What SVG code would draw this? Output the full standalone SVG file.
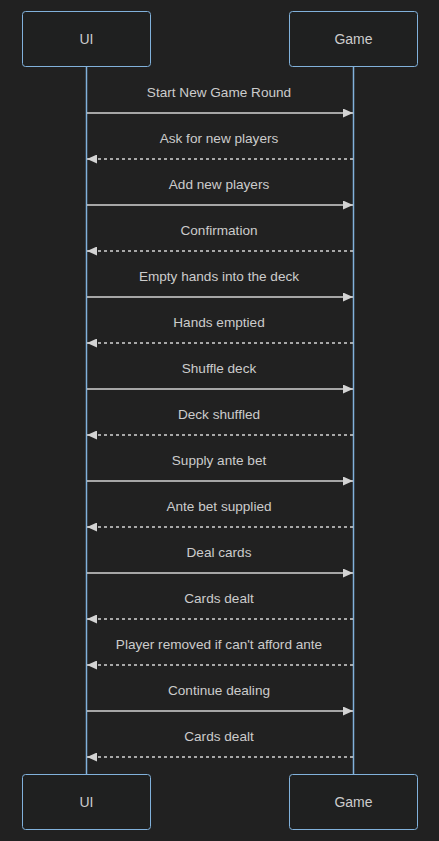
<svg xmlns="http://www.w3.org/2000/svg" width="439" height="841" viewBox="0 0 439 841">
<defs>
<style>
.bg{fill:#212121}
.actor rect{fill:#1f2020;stroke:#81b1db;stroke-width:1}
.actor text{fill:#cccccc;font-family:"Liberation Sans",Arial,sans-serif;font-size:14px;text-anchor:middle;dominant-baseline:central}
.life{stroke:#81b1db;stroke-width:1.5}
.msg{stroke:#d3d3d3;stroke-width:1.5;fill:none}
.dash{stroke-dasharray:3,3}
.lbl{fill:#cccccc;font-family:"Liberation Sans",Arial,sans-serif;font-size:13.6px;text-anchor:middle}
</style>
<marker id="ah" viewBox="0 0 10 9" refX="10" refY="4.5" markerWidth="10" markerHeight="9" markerUnits="userSpaceOnUse" orient="auto">
<path d="M0,0 L10,4.5 L0,9 z" fill="#d3d3d3"/>
</marker>
</defs>
<rect class="bg" x="0" y="0" width="439" height="841"/>
<g id="lifelines">
<line class="life" x1="86.5" y1="66.5" x2="86.5" y2="774.5"/>
<line class="life" x1="353.5" y1="66.5" x2="353.5" y2="774.5"/>
</g>
<g id="ui-top" class="actor"><rect x="22.5" y="11.5" width="128" height="55" rx="3"/><text x="86.5" y="39">UI</text></g>
<g id="game-top" class="actor"><rect x="289.5" y="11.5" width="128" height="55" rx="3"/><text x="353.5" y="39">Game</text></g>
<g id="ui-bottom" class="actor"><rect x="22.5" y="774.5" width="128" height="55" rx="3"/><text x="86.5" y="802">UI</text></g>
<g id="game-bottom" class="actor"><rect x="289.5" y="774.5" width="128" height="55" rx="3"/><text x="353.5" y="802">Game</text></g>
<g id="connectors">
<line class="msg" x1="87" y1="113" x2="353" y2="113" marker-end="url(#ah)"/>
<text class="lbl" x="219" y="97">Start New Game Round</text>
<line class="msg dash" x1="353" y1="159" x2="87" y2="159" marker-end="url(#ah)"/>
<text class="lbl" x="219" y="143">Ask for new players</text>
<line class="msg" x1="87" y1="205" x2="353" y2="205" marker-end="url(#ah)"/>
<text class="lbl" x="219" y="189">Add new players</text>
<line class="msg dash" x1="353" y1="251" x2="87" y2="251" marker-end="url(#ah)"/>
<text class="lbl" x="219" y="235">Confirmation</text>
<line class="msg" x1="87" y1="297" x2="353" y2="297" marker-end="url(#ah)"/>
<text class="lbl" x="219" y="281">Empty hands into the deck</text>
<line class="msg dash" x1="353" y1="343" x2="87" y2="343" marker-end="url(#ah)"/>
<text class="lbl" x="219" y="327">Hands emptied</text>
<line class="msg" x1="87" y1="389" x2="353" y2="389" marker-end="url(#ah)"/>
<text class="lbl" x="219" y="373">Shuffle deck</text>
<line class="msg dash" x1="353" y1="435" x2="87" y2="435" marker-end="url(#ah)"/>
<text class="lbl" x="219" y="419">Deck shuffled</text>
<line class="msg" x1="87" y1="481" x2="353" y2="481" marker-end="url(#ah)"/>
<text class="lbl" x="219" y="465">Supply ante bet</text>
<line class="msg dash" x1="353" y1="527" x2="87" y2="527" marker-end="url(#ah)"/>
<text class="lbl" x="219" y="511">Ante bet supplied</text>
<line class="msg" x1="87" y1="573" x2="353" y2="573" marker-end="url(#ah)"/>
<text class="lbl" x="219" y="557">Deal cards</text>
<line class="msg dash" x1="353" y1="619" x2="87" y2="619" marker-end="url(#ah)"/>
<text class="lbl" x="219" y="603">Cards dealt</text>
<line class="msg dash" x1="353" y1="665" x2="87" y2="665" marker-end="url(#ah)"/>
<text class="lbl" x="219" y="649">Player removed if can't afford ante</text>
<line class="msg" x1="87" y1="711" x2="353" y2="711" marker-end="url(#ah)"/>
<text class="lbl" x="219" y="695">Continue dealing</text>
<line class="msg dash" x1="353" y1="757" x2="87" y2="757" marker-end="url(#ah)"/>
<text class="lbl" x="219" y="741">Cards dealt</text>
</g>
</svg>
